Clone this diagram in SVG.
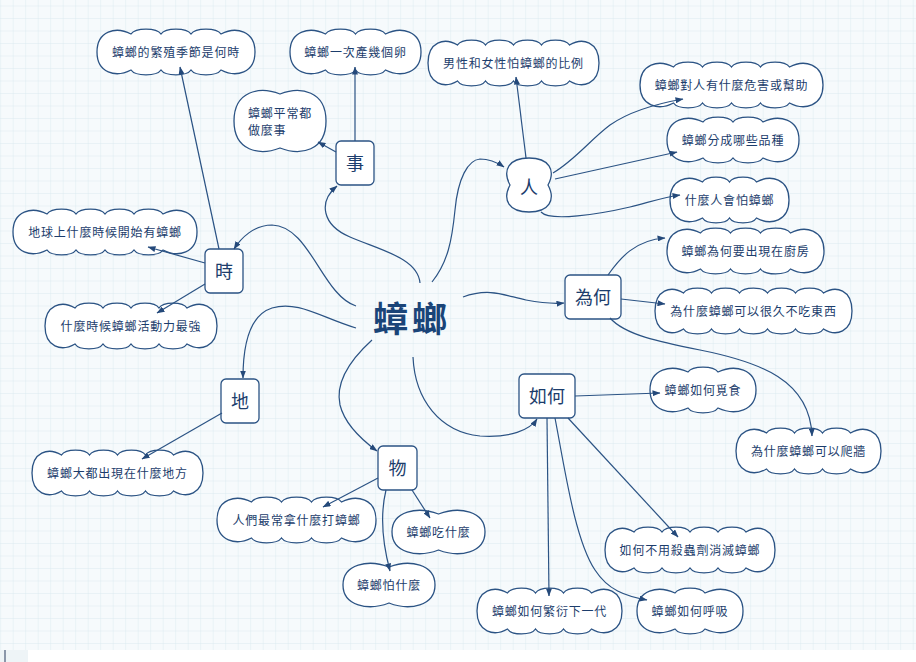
<svg xmlns="http://www.w3.org/2000/svg" width="916" height="662" viewBox="0 0 916 662">
<defs>
<pattern id="grid" width="12.5" height="12.5" x="0.2" y="5.5" patternUnits="userSpaceOnUse">
<rect width="12.5" height="12.5" fill="#f6fafc"/>
<path d="M0,0 V12.5 M0,0 H12.5" stroke="#dcebf1" stroke-width="1" fill="none"/>
</pattern>
<marker id="arr" viewBox="0 0 8 6" refX="7.5" refY="3" markerWidth="8" markerHeight="6" markerUnits="userSpaceOnUse" orient="auto">
<path d="M0,0 L8,3 L0,6 z" fill="#24497a"/>
</marker>
<style>
.cloud{fill:#ffffff;stroke:#2b5384;stroke-width:1.3}
.box{fill:#ffffff;stroke:#2b5384;stroke-width:1.3}
.t{font-family:"Noto Sans CJK TC","Noto Sans CJK SC",sans-serif;font-size:12px;letter-spacing:0.8px;fill:#1c3d6c;text-anchor:middle}
.tl{font-family:"Noto Sans CJK TC","Noto Sans CJK SC",sans-serif;font-size:12px;letter-spacing:0.8px;fill:#1c3d6c}
.bt{font-family:"Noto Sans CJK TC","Noto Sans CJK SC",sans-serif;font-size:18px;fill:#1c3d6c;text-anchor:middle}
.ct{font-family:"Noto Sans CJK TC","Noto Sans CJK SC",sans-serif;font-size:35px;font-weight:bold;letter-spacing:4px;fill:#1a4478;text-anchor:middle}
.c{fill:none;stroke:#2b5384;stroke-width:1.2;marker-end:url(#arr)}
</style>
</defs>
<rect x="0" y="0" width="916" height="650" fill="url(#grid)"/>
<rect x="0" y="650" width="916" height="12" fill="#ffffff"/>
<rect x="0" y="650" width="28" height="12" fill="#eef4f7"/>
<rect x="4" y="650" width="2" height="12" fill="#8b97aa"/>

<g id="nodes">
<g id="center"><text class="ct" x="412" y="332">蟑螂</text></g>

<g id="n-shi4"><rect class="box" x="336" y="141" width="38" height="44" rx="5"/><text class="bt" x="355" y="169.5">事</text></g>
<g id="n-shi2"><rect class="box" x="205" y="249" width="38" height="44" rx="5"/><text class="bt" x="224" y="277.5">時</text></g>
<g id="n-weihe"><rect class="box" x="565" y="275" width="56" height="44" rx="5"/><text class="bt" x="593" y="303.5">為何</text></g>
<g id="n-ruhe"><rect class="box" x="519" y="374" width="56" height="44" rx="5"/><text class="bt" x="547" y="402.5">如何</text></g>
<g id="n-di"><rect class="box" x="221" y="379" width="38" height="44" rx="5"/><text class="bt" x="240" y="407.5">地</text></g>
<g id="n-wu"><rect class="box" x="378" y="446" width="39" height="44" rx="5"/><text class="bt" x="397.5" y="474.5">物</text></g>
<g id="n-ren"><path class="cloud" d="M510,185 C502,170 509,158 529,158 C549,158 556,170 548,185 C556,200 549,212 529,212 C509,212 502,200 510,185 Z"/><text class="bt" x="529" y="193.5">人</text></g>

<g id="c-fanzhi"><path class="cloud" d="M131,34 c4.5,-6.5 25.5,-6.5 30,0 c4.5,-6.5 25.5,-6.5 30,0 c4.5,-6.5 25.5,-6.5 30,0 c15.3,-8 34,-3 34,18 c0,21 -18.7,26 -34,18 c-4.5,6.5 -25.5,6.5 -30,0 c-4.5,6.5 -25.5,6.5 -30,0 c-4.5,6.5 -25.5,6.5 -30,0 c-15.3,8 -34,3 -34,-18 c0,-21 18.7,-26 34,-18z"/><text class="t" x="176" y="56.5">蟑螂的繁殖季節是何時</text></g>

<g id="c-chanluan"><path class="cloud" d="M325.5,34 c4.5,-6.5 25.5,-6.5 30,0 c4.5,-6.5 25.5,-6.5 30,0 c15.98,-8 35.5,-3 35.5,18 c0,21 -19.53,26 -35.5,18 c-4.5,6.5 -25.5,6.5 -30,0 c-4.5,6.5 -25.5,6.5 -30,0 c-15.98,8 -35.5,3 -35.5,-18 c0,-21 19.53,-26 35.5,-18z"/><text class="t" x="355.5" y="56.5">蟑螂一次產幾個卵</text></g>

<g id="c-pingchang"><path class="cloud" d="M280,94 c20.7,-8 46,-3 46,27 c0,30 -25.3,35 -46,27 c-20.7,8 -46,3 -46,-27 c0,-30 25.3,-35 46,-27z"/><text class="tl" x="248" y="117.5">蟑螂平常都</text><text class="tl" x="248" y="134.5">做麼事</text></g>

<g id="c-nannv"><path class="cloud" d="M457.5,45 c4.2,-6.5 23.8,-6.5 28,0 c4.2,-6.5 23.8,-6.5 28,0 c4.2,-6.5 23.8,-6.5 28,0 c4.2,-6.5 23.8,-6.5 28,0 c13.28,-8 29.5,-3 29.5,18 c0,21 -16.23,26 -29.5,18 c-4.2,6.5 -23.8,6.5 -28,0 c-4.2,6.5 -23.8,6.5 -28,0 c-4.2,6.5 -23.8,6.5 -28,0 c-4.2,6.5 -23.8,6.5 -28,0 c-13.28,8 -29.5,3 -29.5,-18 c0,-21 16.23,-26 29.5,-18z"/><text class="t" x="513.5" y="67.5">男性和女性怕蟑螂的比例</text></g>

<g id="c-weihai"><path class="cloud" d="M673.5,67 c4.35,-6.5 24.65,-6.5 29,0 c4.35,-6.5 24.65,-6.5 29,0 c4.35,-6.5 24.65,-6.5 29,0 c4.35,-6.5 24.65,-6.5 29,0 c15.08,-8 33.5,-3 33.5,18 c0,21 -18.43,26 -33.5,18 c-4.35,6.5 -24.65,6.5 -29,0 c-4.35,6.5 -24.65,6.5 -29,0 c-4.35,6.5 -24.65,6.5 -29,0 c-4.35,6.5 -24.65,6.5 -29,0 c-15.08,8 -33.5,3 -33.5,-18 c0,-21 18.43,-26 33.5,-18z"/><text class="t" x="731.5" y="89.5">蟑螂對人有什麼危害或幫助</text></g>

<g id="c-pinzhong"><path class="cloud" d="M703,122 c4.5,-6.5 25.5,-6.5 30,0 c4.5,-6.5 25.5,-6.5 30,0 c16.2,-8 36,-3 36,18 c0,21 -19.8,26 -36,18 c-4.5,6.5 -25.5,6.5 -30,0 c-4.5,6.5 -25.5,6.5 -30,0 c-16.2,8 -36,3 -36,-18 c0,-21 19.8,-26 36,-18z"/><text class="t" x="733" y="144.5">蟑螂分成哪些品種</text></g>

<g id="c-shenmeren"><path class="cloud" d="M702.5,182 c4.05,-6.5 22.95,-6.5 27,0 c4.05,-6.5 22.95,-6.5 27,0 c14.63,-8 32.5,-3 32.5,18 c0,21 -17.88,26 -32.5,18 c-4.05,6.5 -22.95,6.5 -27,0 c-4.05,6.5 -22.95,6.5 -27,0 c-14.63,8 -32.5,3 -32.5,-18 c0,-21 17.88,-26 32.5,-18z"/><text class="t" x="729.5" y="204.5">什麼人會怕蟑螂</text></g>

<g id="c-chufang"><path class="cloud" d="M700.5,233 c4.5,-6.5 25.5,-6.5 30,0 c4.5,-6.5 25.5,-6.5 30,0 c4.5,-6.5 25.5,-6.5 30,0 c15.08,-8 33.5,-3 33.5,18 c0,21 -18.43,26 -33.5,18 c-4.5,6.5 -25.5,6.5 -30,0 c-4.5,6.5 -25.5,6.5 -30,0 c-4.5,6.5 -25.5,6.5 -30,0 c-15.08,8 -33.5,3 -33.5,-18 c0,-21 18.43,-26 33.5,-18z"/><text class="t" x="745.5" y="255.5">蟑螂為何要出現在廚房</text></g>

<g id="c-henjiu"><path class="cloud" d="M683.5,293 c4.2,-6.5 23.8,-6.5 28,0 c4.2,-6.5 23.8,-6.5 28,0 c4.2,-6.5 23.8,-6.5 28,0 c4.2,-6.5 23.8,-6.5 28,0 c4.2,-6.5 23.8,-6.5 28,0 c12.83,-8 28.5,-3 28.5,18 c0,21 -15.68,26 -28.5,18 c-4.2,6.5 -23.8,6.5 -28,0 c-4.2,6.5 -23.8,6.5 -28,0 c-4.2,6.5 -23.8,6.5 -28,0 c-4.2,6.5 -23.8,6.5 -28,0 c-4.2,6.5 -23.8,6.5 -28,0 c-12.83,8 -28.5,3 -28.5,-18 c0,-21 15.68,-26 28.5,-18z"/><text class="t" x="753.5" y="315.5">為什麼蟑螂可以很久不吃東西</text></g>

<g id="c-mishi"><path class="cloud" d="M688,372 c4.5,-6.5 25.5,-6.5 30,0 c17.1,-8 38,-3 38,18 c0,21 -20.9,26 -38,18 c-4.5,6.5 -25.5,6.5 -30,0 c-17.1,8 -38,3 -38,-18 c0,-21 20.9,-26 38,-18z"/><text class="t" x="703" y="394.5">蟑螂如何覓食</text></g>

<g id="c-paqiang"><path class="cloud" d="M766.5,433 c4.2,-6.5 23.8,-6.5 28,0 c4.2,-6.5 23.8,-6.5 28,0 c4.2,-6.5 23.8,-6.5 28,0 c13.73,-8 30.5,-3 30.5,18 c0,21 -16.78,26 -30.5,18 c-4.2,6.5 -23.8,6.5 -28,0 c-4.2,6.5 -23.8,6.5 -28,0 c-4.2,6.5 -23.8,6.5 -28,0 c-13.73,8 -30.5,3 -30.5,-18 c0,-21 16.78,-26 30.5,-18z"/><text class="t" x="808.5" y="455.5">為什麼蟑螂可以爬牆</text></g>

<g id="c-diqiu"><path class="cloud" d="M47,214 c4.35,-6.5 24.65,-6.5 29,0 c4.35,-6.5 24.65,-6.5 29,0 c4.35,-6.5 24.65,-6.5 29,0 c4.35,-6.5 24.65,-6.5 29,0 c15.3,-8 34,-3 34,18 c0,21 -18.7,26 -34,18 c-4.35,6.5 -24.65,6.5 -29,0 c-4.35,6.5 -24.65,6.5 -29,0 c-4.35,6.5 -24.65,6.5 -29,0 c-4.35,6.5 -24.65,6.5 -29,0 c-15.3,8 -34,3 -34,-18 c0,-21 18.7,-26 34,-18z"/><text class="t" x="105" y="236.5">地球上什麼時候開始有蟑螂</text></g>

<g id="c-huodong"><path class="cloud" d="M75,308 c4.2,-6.5 23.8,-6.5 28,0 c4.2,-6.5 23.8,-6.5 28,0 c4.2,-6.5 23.8,-6.5 28,0 c4.2,-6.5 23.8,-6.5 28,0 c13.5,-8 30,-3 30,18 c0,21 -16.5,26 -30,18 c-4.2,6.5 -23.8,6.5 -28,0 c-4.2,6.5 -23.8,6.5 -28,0 c-4.2,6.5 -23.8,6.5 -28,0 c-4.2,6.5 -23.8,6.5 -28,0 c-13.5,8 -30,3 -30,-18 c0,-21 16.5,-26 30,-18z"/><text class="t" x="131" y="330.5">什麼時候蟑螂活動力最強</text></g>

<g id="c-difang"><path class="cloud" d="M61.5,455 c4.2,-6.5 23.8,-6.5 28,0 c4.2,-6.5 23.8,-6.5 28,0 c4.2,-6.5 23.8,-6.5 28,0 c4.2,-6.5 23.8,-6.5 28,0 c13.28,-8 29.5,-3 29.5,18 c0,21 -16.23,26 -29.5,18 c-4.2,6.5 -23.8,6.5 -28,0 c-4.2,6.5 -23.8,6.5 -28,0 c-4.2,6.5 -23.8,6.5 -28,0 c-4.2,6.5 -23.8,6.5 -28,0 c-13.28,8 -29.5,3 -29.5,-18 c0,-21 16.23,-26 29.5,-18z"/><text class="t" x="117.5" y="477.5">蟑螂大都出現在什麼地方</text></g>

<g id="c-renmen"><path class="cloud" d="M251.5,502 c4.5,-6.5 25.5,-6.5 30,0 c4.5,-6.5 25.5,-6.5 30,0 c4.5,-6.5 25.5,-6.5 30,0 c15.53,-8 34.5,-3 34.5,18 c0,21 -18.98,26 -34.5,18 c-4.5,6.5 -25.5,6.5 -30,0 c-4.5,6.5 -25.5,6.5 -30,0 c-4.5,6.5 -25.5,6.5 -30,0 c-15.53,8 -34.5,3 -34.5,-18 c0,-21 18.98,-26 34.5,-18z"/><text class="t" x="296.5" y="524.5">人們最常拿什麼打蟑螂</text></g>

<g id="c-chi"><path class="cloud" d="M438.5,514 c20.93,-8 46.5,-3 46.5,18 c0,21 -25.58,26 -46.5,18 c-20.93,8 -46.5,3 -46.5,-18 c0,-21 25.58,-26 46.5,-18z"/><text class="t" x="438.5" y="536.5">蟑螂吃什麼</text></g>

<g id="c-pa"><path class="cloud" d="M389,567 c20.7,-8 46,-3 46,18 c0,21 -25.3,26 -46,18 c-20.7,8 -46,3 -46,-18 c0,-21 25.3,-26 46,-18z"/><text class="t" x="389" y="589.5">蟑螂怕什麼</text></g>

<g id="c-shachong"><path class="cloud" d="M634,532 c4.2,-6.5 23.8,-6.5 28,0 c4.2,-6.5 23.8,-6.5 28,0 c4.2,-6.5 23.8,-6.5 28,0 c4.2,-6.5 23.8,-6.5 28,0 c13.05,-8 29,-3 29,18 c0,21 -15.95,26 -29,18 c-4.2,6.5 -23.8,6.5 -28,0 c-4.2,6.5 -23.8,6.5 -28,0 c-4.2,6.5 -23.8,6.5 -28,0 c-4.2,6.5 -23.8,6.5 -28,0 c-13.05,8 -29,3 -29,-18 c0,-21 15.95,-26 29,-18z"/><text class="t" x="690" y="554.5">如何不用殺蟲劑消滅蟑螂</text></g>

<g id="c-fanyan"><path class="cloud" d="M507.5,593 c4.2,-6.5 23.8,-6.5 28,0 c4.2,-6.5 23.8,-6.5 28,0 c4.2,-6.5 23.8,-6.5 28,0 c13.73,-8 30.5,-3 30.5,18 c0,21 -16.78,26 -30.5,18 c-4.2,6.5 -23.8,6.5 -28,0 c-4.2,6.5 -23.8,6.5 -28,0 c-4.2,6.5 -23.8,6.5 -28,0 c-13.73,8 -30.5,3 -30.5,-18 c0,-21 16.78,-26 30.5,-18z"/><text class="t" x="549.5" y="615.5">蟑螂如何繁衍下一代</text></g>

<g id="c-huxi"><path class="cloud" d="M675,593 c4.5,-6.5 25.5,-6.5 30,0 c17.1,-8 38,-3 38,18 c0,21 -20.9,26 -38,18 c-4.5,6.5 -25.5,6.5 -30,0 c-17.1,8 -38,3 -38,-18 c0,-21 20.9,-26 38,-18z"/><text class="t" x="690" y="615.5">蟑螂如何呼吸</text></g>
</g>

<g id="connectors">
<path class="c" d="M420,283 C418,258 380,250 350,237 C322,225 318,202 337,186"/>
<path class="c" d="M356,306 C322,295 310,226 272,225 C254,225 241,238 234,249"/>
<path class="c" d="M356,328 C322,318 298,300 272,308 C250,315 243,345 243,378"/>
<path class="c" d="M432,282 C448,262 452,240 455,210 C458,178 468,160 480,159 C490,159 498,163 504,167"/>
<path class="c" d="M463,297 C490,287 506,296 526,300 C542,303 553,304 564,303"/>
<path class="c" d="M413,357 C415,400 440,432 480,436 C510,438 530,430 537,419"/>
<path class="c" d="M372,340 C350,360 335,382 340,405 C345,425 362,440 377,451"/>
<path class="c" d="M355,141 V67"/>
<path class="c" d="M336,152 L318,142"/>
<path class="c" d="M219,249 L180,67"/>
<path class="c" d="M205,263 L148,247"/>
<path class="c" d="M205,284 L157,313"/>
<path class="c" d="M222,413 L142,459"/>
<path class="c" d="M378,478 L323,507"/>
<path class="c" d="M412,490 L430,518"/>
<path class="c" d="M386,490 C380,515 383,545 390,571"/>
<path class="c" d="M526,158 L516,77"/>
<path class="c" d="M553,173 C575,160 590,140 610,125 C630,111 655,104 683,99"/>
<path class="c" d="M555,179 L677,152"/>
<path class="c" d="M541,212 C550,222 600,214 630,207 C650,202 665,197 680,195"/>
<path class="c" d="M608,275 C620,258 635,240 665,238"/>
<path class="c" d="M621,299 L665,304"/>
<path class="c" d="M610,318 C625,335 660,342 700,350 C760,362 810,380 812,436"/>
<path class="c" d="M575,396 L660,393"/>
<path class="c" d="M547,418 L549,596"/>
<path class="c" d="M555,418 C565,470 575,540 595,570 C608,590 625,596 647,600"/>
<path class="c" d="M568,418 L678,537"/>
</g>
</svg>
